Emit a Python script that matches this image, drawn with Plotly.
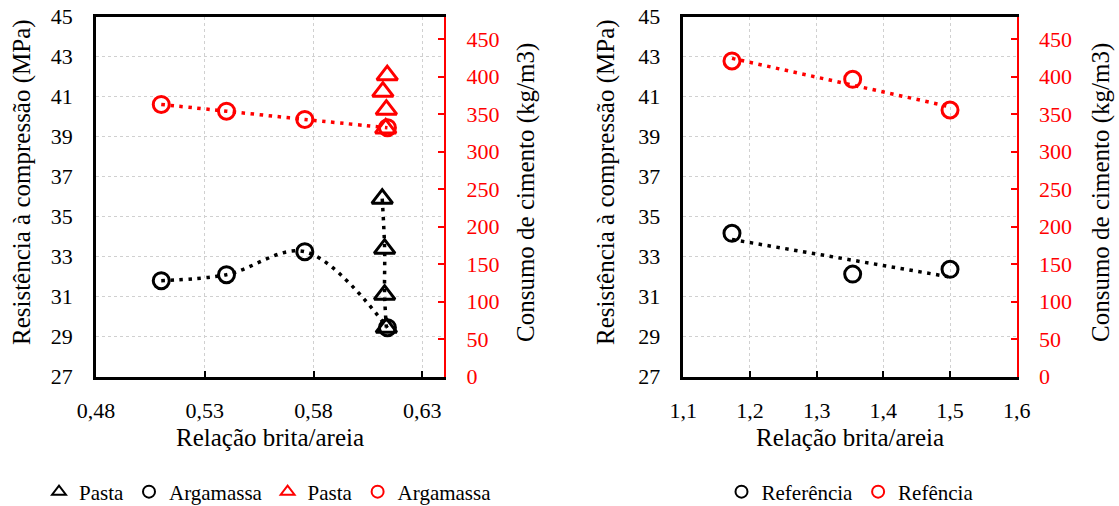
import numpy as np
import plotly.graph_objects as go

# ---- data (left chart) ----
x_pasta_res = [0.6116, 0.6127, 0.6127, 0.6135]
res_pasta = [35.9, 33.4, 31.1, 29.45]
x_pasta_cons = [0.6139, 0.6119, 0.6135, 0.6132]
cons_pasta = [402, 380, 356, 331]
x_arg = [0.510, 0.540, 0.576, 0.614]
res_arg = [31.8, 32.1, 33.25, 29.45]
cons_arg = [363, 354, 343, 332]

# ---- data (right chart) ----
x_ref = [1.173, 1.354, 1.500]
res_ref = [34.17, 32.13, 32.37]
cons_ref = [421, 396.5, 355.6]

W, H = 1119, 506
FONT = "Liberation Serif, Times New Roman, Times, serif"
RED = "#ff0000"
GRID = "#d0d0d0"

def px(x):
    return x / W

def py(y):
    return 1 - y / H

yd = [py(376.7), py(16.7)]
xd1 = [px(96), px(444)]
xd2 = [px(683.3), px(1016.7)]

DOT = "3.5px,5.5px"
fig = go.Figure()

# lines (no legend)
fig.add_trace(go.Scatter(x=x_arg, y=res_arg, mode="lines", line=dict(color="black", width=3.5, dash=DOT, shape="spline"),
                         xaxis="x", yaxis="y", showlegend=False, hoverinfo="skip"))
fig.add_trace(go.Scatter(x=x_pasta_res, y=res_pasta, mode="lines", line=dict(color="black", width=3.5, dash=DOT, shape="spline"),
                         xaxis="x", yaxis="y", showlegend=False, hoverinfo="skip"))
fig.add_trace(go.Scatter(x=x_arg, y=cons_arg, mode="lines", line=dict(color=RED, width=3.5, dash=DOT, shape="spline"),
                         xaxis="x", yaxis="y2", showlegend=False, hoverinfo="skip"))

# trendlines right chart
xr = np.array(x_ref)
for vals, col, ya in ((res_ref, "black", "y3"), (cons_ref, RED, "y4")):
    k, b = np.polyfit(xr, np.array(vals), 1)
    xs = [xr.min(), xr.max()]
    fig.add_trace(go.Scatter(x=xs, y=[k * v + b for v in xs], mode="lines",
                             line=dict(color=col, width=3.5, dash=DOT),
                             xaxis="x2", yaxis=ya, showlegend=False, hoverinfo="skip"))

ML = 3
def mk(sym, col, size):
    return dict(symbol=sym, size=size, color="rgba(255,255,255,0)", line=dict(color=col, width=ML))

fig.add_trace(go.Scatter(x=x_pasta_res, y=res_pasta, mode="markers", name="Pasta",
                         marker=mk("triangle-up", "black", 18), xaxis="x", yaxis="y", legend="legend"))
fig.add_trace(go.Scatter(x=x_arg, y=res_arg, mode="markers", name="Argamassa",
                         marker=mk("circle", "black", 16), xaxis="x", yaxis="y", legend="legend"))
fig.add_trace(go.Scatter(x=x_pasta_cons, y=cons_pasta, mode="markers", name="Pasta",
                         marker=mk("triangle-up", RED, 18), xaxis="x", yaxis="y2", legend="legend"))
fig.add_trace(go.Scatter(x=x_arg, y=cons_arg, mode="markers", name="Argamassa",
                         marker=mk("circle", RED, 16), xaxis="x", yaxis="y2", legend="legend"))

fig.add_trace(go.Scatter(x=x_ref, y=res_ref, mode="markers", name="Referência",
                         marker=mk("circle", "black", 16), xaxis="x2", yaxis="y3", legend="legend2"))
fig.add_trace(go.Scatter(x=x_ref, y=cons_ref, mode="markers", name="Refência",
                         marker=mk("circle", RED, 16), xaxis="x2", yaxis="y4", legend="legend2"))

tickfont = dict(family=FONT, size=22, color="black")
redfont = dict(family=FONT, size=22, color=RED)

def xax(dom, rng, dt, t0, fmt, anchor):
    return dict(domain=dom, range=rng, dtick=dt, tick0=t0, tickformat=fmt, anchor=anchor,
                showline=True, linecolor="black", linewidth=2.5, mirror=True,
                ticks="inside", ticklen=6, tickwidth=2, tickcolor="black",
                showgrid=True, gridcolor=GRID, griddash="dot", gridwidth=1.3,
                zeroline=False, tickfont=tickfont, ticklabelstandoff=12, automargin=False)

def yleft(anchor):
    return dict(domain=yd, range=[27, 45], dtick=2, tick0=27, anchor=anchor,
                showline=True, linecolor="black", linewidth=2.5, ticks="",
                showgrid=True, gridcolor=GRID, griddash="dot", gridwidth=1.3,
                zeroline=False, tickfont=tickfont, ticklabelstandoff=16, automargin=False)

def yright(over, anchor):
    return dict(overlaying=over, side="right", anchor=anchor, range=[0, 480], dtick=50, tick0=0,
                showline=True, linecolor=RED, linewidth=2, ticks="inside", ticklen=6,
                tickwidth=2, tickcolor=RED, showgrid=False, zeroline=False,
                tickfont=redfont, ticklabelstandoff=16, automargin=False)

fig.update_layout(
    width=W, height=H, margin=dict(l=0, r=0, t=0, b=0, pad=0, autoexpand=False),
    paper_bgcolor="white", plot_bgcolor="white",
    separators=",.",
    font=dict(family=FONT, size=22, color="black"),
    xaxis=xax(xd1, [0.48, 0.64], 0.05, 0.48, ".2f", "y"),
    yaxis=yleft("x"),
    yaxis2=yright("y", "x"),
    xaxis2=xax(xd2, [1.1, 1.6], 0.1, 1.1, ".1f", "y3"),
    yaxis3=yleft("x2"),
    yaxis4=yright("y3", "x2"),
    legend=dict(orientation="h", xref="container", yref="container",
                x=px(268), xanchor="center", y=py(492), yanchor="middle",
                font=dict(family=FONT, size=21), itemsizing="constant", itemwidth=30,
                bgcolor="rgba(0,0,0,0)"),
    legend2=dict(orientation="h", xref="container", yref="container",
                 x=px(850), xanchor="center", y=py(492), yanchor="middle",
                 font=dict(family=FONT, size=21), itemsizing="constant", itemwidth=30,
                 bgcolor="rgba(0,0,0,0)"),
)

tfont = dict(family=FONT, size=25, color="black")
ann = [
    ("Resistência à compressão (MPa)", 22, 182, -90),
    ("Consumo de cimento (kg/m3)", 526, 193, -90),
    ("Resistência à compressão (MPa)", 606, 182, -90),
    ("Consumo de cimento (kg/m3)", 1101, 193, -90),
    ("Relação brita/areia", 270, 437, 0),
    ("Relação brita/areia", 850, 437, 0),
]
for text, x, y, ang in ann:
    fig.add_annotation(text=text, x=px(x), y=py(y), xref="paper", yref="paper",
                       showarrow=False, textangle=ang, font=tfont,
                       xanchor="center", yanchor="middle")

fig.write_html("out.html")
